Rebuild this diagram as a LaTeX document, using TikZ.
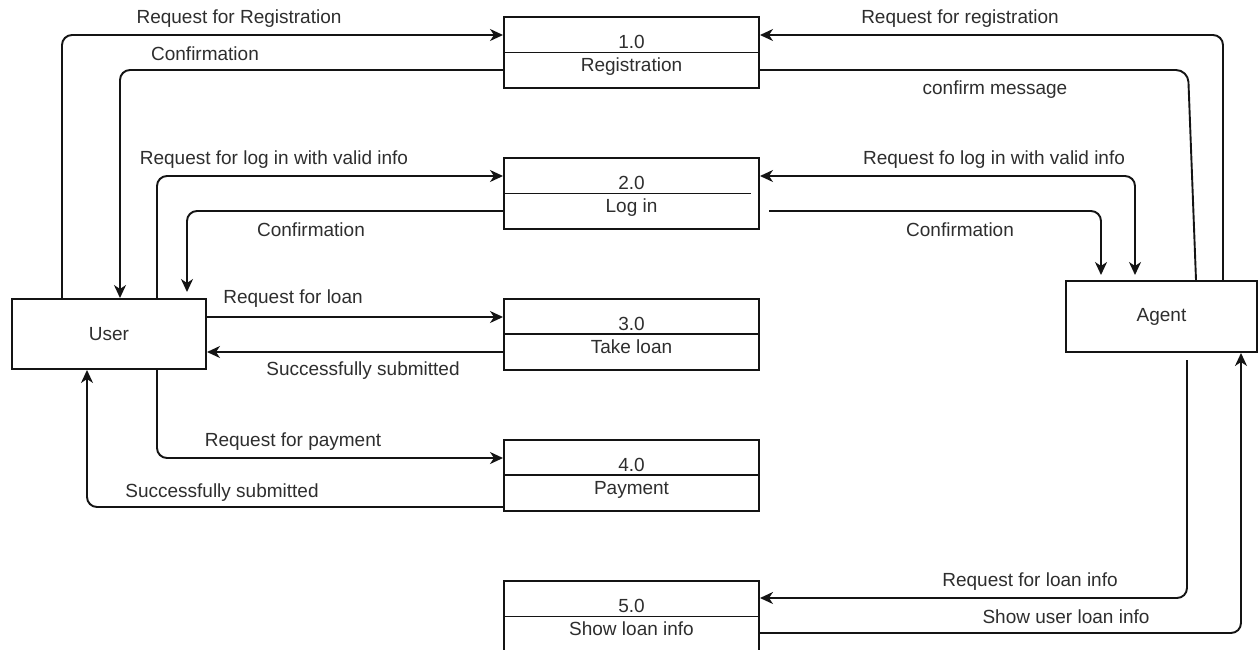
\documentclass[tikz,border=0pt]{standalone}
\usepackage{fontspec}
\setmainfont{Liberation Sans}
\usetikzlibrary{arrows.meta}
\definecolor{ln}{HTML}{141414}
\definecolor{txt}{HTML}{2E2E2E}
\begin{document}
\begin{tikzpicture}[x=1pt,y=-1pt,
  every node/.style={text=txt, font=\fontsize{19}{22}\selectfont},
  proc/.style={draw=ln, line width=2pt, minimum width=255pt, minimum height=71pt, inner sep=0pt},
  ext/.style={draw=ln, line width=2pt, inner sep=0pt},
  flow/.style={draw=ln, line width=1.9pt, rounded corners=10pt},
  arr/.style={flow, -{Stealth[length=13pt,width=12pt,inset=4pt]}},
  bi/.style={flow, {Stealth[length=13pt,width=12pt,inset=4pt]}-{Stealth[length=13pt,width=12pt,inset=4pt]}},
  divider/.style={draw=ln, line width=1.9pt},
  lbl/.style={inner sep=0pt}]
\clip (0,0) rectangle (1258,649);
\fill[white] (0,0) rectangle (1258,649);

% external entities
\node[ext, minimum width=194pt, minimum height=70pt] (User) at (109,334) {User};
\node[ext, minimum width=191pt, minimum height=71pt] (Agent) at (1161.5,316.5) {Agent};

% processes
\node[proc] (p1) at (631.5,52.5) {};
\node[proc] (p2) at (631.5,193.5) {};
\node[proc] (p3) at (631.5,334) {};
\node[proc] (p4) at (631.5,475) {};
\node[proc] (p5) at (631.5,616.5) {};
\draw[divider] (p1.west) -- (p1.east);
\draw[divider] (p2.west) -- ([xshift=-9pt]p2.east);
\draw[divider] (p3.west) -- (p3.east);
\draw[divider] (p4.west) -- (p4.east);
\draw[divider] (p5.west) -- (p5.east);
\node[anchor=base] (n1) at ([yshift=4pt]p1.center) {1.0};
\node[anchor=base] (t1) at ([yshift=-19pt]p1.center) {Registration};
\node[anchor=base] (n2) at ([yshift=4pt]p2.center) {2.0};
\node[anchor=base] (t2) at ([yshift=-19pt]p2.center) {Log in};
\node[anchor=base] (n3) at ([yshift=4pt]p3.center) {3.0};
\node[anchor=base] (t3) at ([yshift=-19pt]p3.center) {Take loan};
\node[anchor=base] (n4) at ([yshift=4pt]p4.center) {4.0};
\node[anchor=base] (t4) at ([yshift=-19pt]p4.center) {Payment};
\node[anchor=base] (n5) at ([yshift=4pt]p5.center) {5.0};
\node[anchor=base] (t5) at ([yshift=-19pt]p5.center) {Show loan info};

% flows on the user side
\draw[arr] (User.north -| 62,0) |- (p1.west |- 0,35);
\draw[arr] (p1.west |- 0,70) -| (User.north -| 120,0);
\draw[arr] (User.north -| 157,0) |- (p2.west |- 0,176);
\draw[arr, shorten >=6pt] (p2.west |- 0,211) -| (User.north -| 187,0);
\draw[arr] (User.east |- 0,317) -- (p3.west |- 0,317);
\draw[arr] (p3.west |- 0,352) -- (User.east |- 0,352);
\draw[arr] (User.south -| 157,0) |- (p4.west |- 0,458);
\draw[arr] (p4.west |- 0,507) -| (User.south -| 87,0);

% flows on the agent side
\draw[arr] (Agent.north -| 1223,0) |- (p1.east |- 0,35);
\draw[flow, rounded corners=12pt] (p1.east |- 0,70) -- (1188,70) -- (Agent.north -| 1196,0);
\draw[bi, shorten >=5pt] (p2.east |- 0,176) -| (Agent.north -| 1135,0);
\draw[arr, shorten <=9pt, shorten >=5pt] (p2.east |- 0,211) -| (Agent.north -| 1101,0);
\draw[arr, shorten <=7pt] (Agent.south -| 1187,0) |- (p5.east |- 0,598);
\draw[arr] (p5.east |- 0,633) -| (Agent.south -| 1241,0);

% flow labels
\node[lbl] (l1) at (239,19) {Request for Registration};
\node[lbl] (l2) at (205,54) {Confirmation};
\node[lbl] (l3) at (274,160) {Request for log in with valid info};
\node[lbl] (l4) at (311,230) {Confirmation};
\node[lbl] (l5) at (293,299) {Request for loan};
\node[lbl] (l6) at (363,371) {Successfully submitted};
\node[lbl] (l7) at (293,442) {Request for payment};
\node[lbl] (l8) at (222,493) {Successfully submitted};
\node[lbl] (l9) at (960,19) {Request for registration};
\node[lbl] (l10) at (995,90) {confirm message};
\node[lbl] (l11) at (994,160) {Request fo log in with valid info};
\node[lbl] (l12) at (960,230) {Confirmation};
\node[lbl] (l13) at (1030,582) {Request for loan info};
\node[lbl] (l14) at (1066,617) {Show user loan info};
\end{tikzpicture}
\end{document}
